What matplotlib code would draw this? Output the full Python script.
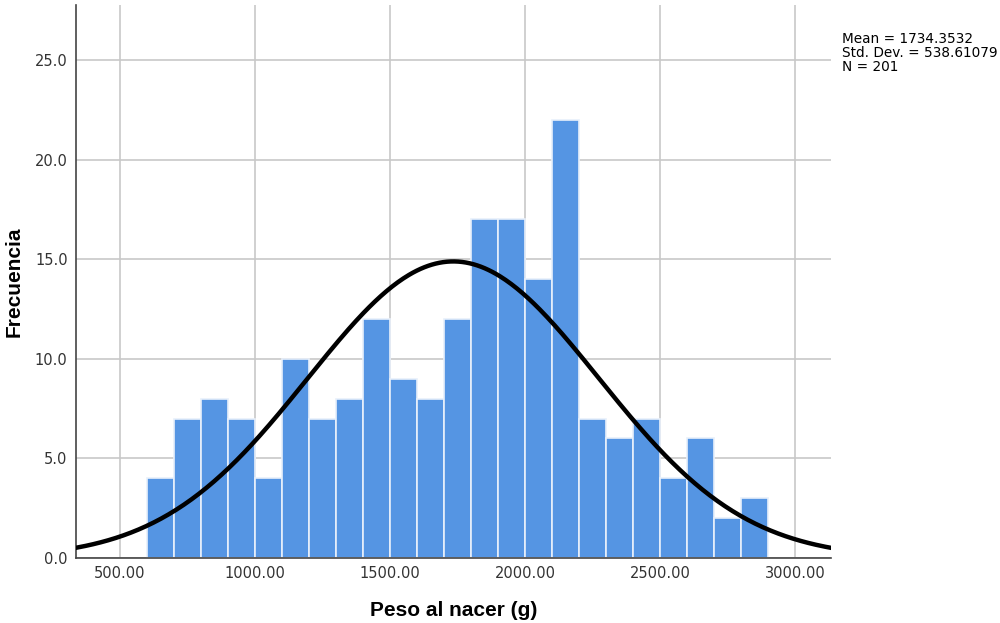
import numpy as np
import matplotlib.pyplot as plt

# birth weight histogram, bins of 100 g
bin_edges = np.arange(600, 3000, 100)
counts = [4, 7, 8, 7, 4, 10, 7, 8, 12, 9, 8, 12, 17, 17, 14, 22, 7, 6, 7, 4, 6, 2, 3]
mean = 1734.3532
std = 538.61079
n = 201

x_ticks = [500, 1000, 1500, 2000, 2500, 3000]
y_ticks = [0, 5, 10, 15, 20, 25]

plt.rcParams["font.family"] = ["DejaVu Sans"]

fig = plt.figure(figsize=(10, 6.23), dpi=100)
ax = fig.add_axes([0.076, 0.1043, 0.755, 0.8877])

ax.set_axisbelow(True)
ax.grid(True, color="#c8c8c8", linewidth=1.2)

ax.bar(bin_edges[:-1], counts, width=100, align="edge",
       color="#5595e3", edgecolor="#e8f0fb", linewidth=1.2, zorder=2)

xs = np.linspace(337, 3133, 400)
ys = n * 100 / (std * np.sqrt(2 * np.pi)) * np.exp(-0.5 * ((xs - mean) / std) ** 2)
ax.plot(xs, ys, color="black", linewidth=3.2, zorder=3)

ax.set_xlim(337, 3133)
ax.set_ylim(0, 27.76)
ax.set_xticks(x_ticks)
ax.set_xticklabels([f"{v:.2f}" for v in x_ticks])
ax.set_yticks(y_ticks)
ax.set_yticklabels([f"{v:.1f}" for v in y_ticks])
ax.tick_params(length=0, labelsize=10.5, colors="#333333", pad=6)

for side in ["top", "right"]:
    ax.spines[side].set_visible(False)
for side in ["left", "bottom"]:
    ax.spines[side].set_color("#444444")
    ax.spines[side].set_linewidth(1.2)

ax.set_xlabel("Peso al nacer (g)", fontsize=15, fontweight="bold", labelpad=14,
              family="Liberation Sans")
ax.set_ylabel("Frecuencia", fontsize=15, fontweight="bold", labelpad=8,
              family="Liberation Sans")

fig.text(0.842, 1 - 32 / 623, f"Mean = {mean:.4f}\nStd. Dev. = {std:.5f}\nN = {n}",
         fontsize=9.8, va="top", ha="left", linespacing=1.0)

fig.savefig("out.png", dpi=100)
